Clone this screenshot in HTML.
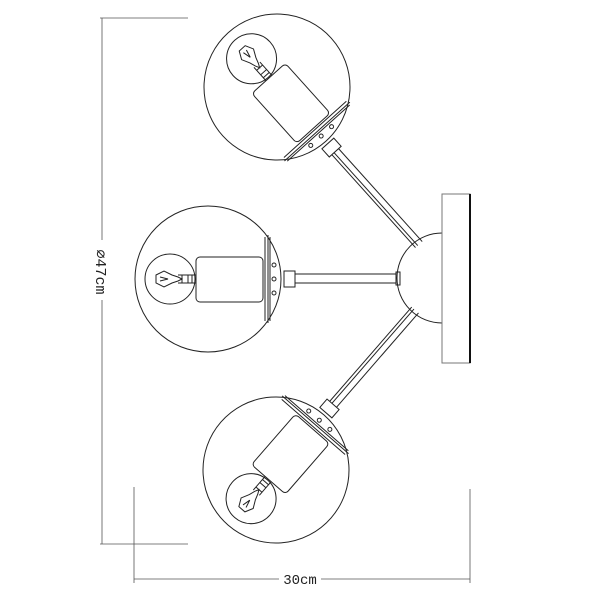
<!DOCTYPE html>
<html><head><style>body{margin:0;background:#fff}svg{display:block}</style></head><body>
<svg width="600" height="600" viewBox="0 0 600 600" xmlns="http://www.w3.org/2000/svg" fill="none" stroke="#222" stroke-width="1">
<defs>
<g id="arm">
  <circle cx="0" cy="0" r="73"/>
  <circle cx="-38" cy="0" r="25"/>
  <path d="M-52,-4 L-44,-8 L-36,-4 L-30,-2 L-26,0 L-30,2 L-36,4 L-44,8 L-52,4 Z M-48,-2 L-40,0 L-48,2 M-30,-4 L-12,-4 M-30,4 L-12,4 M-26,-4 L-26,4 M-20,-4 L-20,4 M-16,-4 L-16,4"/>
  <rect x="-12" y="-22" width="67" height="45" rx="4"/>
  <path d="M57,-42 L57,42 M60,-44 L60,44 M62,-42 L62,42"/>
  <circle cx="66" cy="-14" r="2"/><circle cx="66" cy="0" r="2"/><circle cx="66" cy="14" r="2"/>
  <rect x="76" y="-8" width="11" height="16"/>
</g>
</defs>
<g stroke="#555" stroke-width="0.8">
<line x1="102" y1="18" x2="102" y2="544"/>
<line x1="100" y1="18" x2="188" y2="18"/>
<line x1="100" y1="544" x2="188" y2="544"/>
<line x1="134" y1="579" x2="470" y2="579"/>
<line x1="134" y1="487" x2="134" y2="583"/>
<line x1="470" y1="489" x2="470" y2="583"/>
</g>
<rect x="279" y="570" width="42" height="16" fill="#fff" stroke="none"/>
<text x="300" y="584" font-family="Liberation Mono, monospace" font-size="14" fill="#222" stroke="none" text-anchor="middle">30cm</text>
<rect x="92" y="240" width="18" height="60" fill="#fff" stroke="none"/>
<text transform="translate(96,272) rotate(90)" font-family="Liberation Mono, monospace" font-size="15" fill="#222" stroke="none" text-anchor="middle">⌀47cm</text>
<path d="M442,233 A45,45 0 0 0 442,323"/>
<rect x="442" y="194" width="28" height="169" fill="#fff" stroke="#777"/>
<line x1="470" y1="194" x2="470" y2="363" stroke="#111" stroke-width="2"/>
<g>
<line x1="295" y1="274" x2="396" y2="274"/><line x1="295" y1="283" x2="396" y2="283"/>
<rect x="396" y="272" width="4" height="13"/>
</g>
<g transform="translate(277,87) rotate(48)">
<line x1="87" y1="-4.5" x2="212" y2="-4.5"/><line x1="87" y1="4.5" x2="212" y2="4.5"/><line x1="87" y1="1.5" x2="212" y2="1.5"/>
</g>
<g transform="translate(276,470) rotate(-49)">
<line x1="87" y1="-4.5" x2="212" y2="-4.5"/><line x1="87" y1="4.5" x2="212" y2="4.5"/><line x1="87" y1="-1.5" x2="212" y2="-1.5"/>
</g>
<use href="#arm" transform="translate(208,279)"/>
<use href="#arm" transform="translate(277,87) rotate(48)"/>
<use href="#arm" transform="translate(276,470) rotate(-49)"/>
</svg>
</body></html>
